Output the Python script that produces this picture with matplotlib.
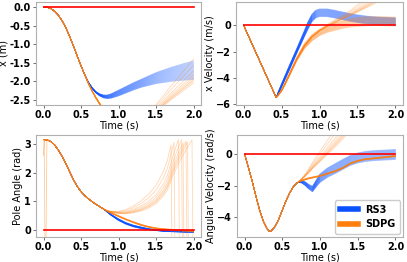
import numpy as np
import matplotlib
matplotlib.use("Agg")
import matplotlib.pyplot as plt
from matplotlib.lines import Line2D

# ---------------- data ----------------
# Panel 1: cart position x (m)
t_x_common = [0, .05, .1, .15, .2, .25, .3, .35, .4, .45, .5, .55]
x_common = [0, -0.01, -0.05, -0.12, -0.23, -0.38, -0.57, -0.8, -1.05, -1.32, -1.58, -1.82]
t_x_blue = [.6, .65, .7, .75, .8, .85, .9, 1.0, 1.1, 1.2, 1.3, 1.4, 1.5, 1.6, 1.7, 1.8, 1.9, 2.0]
x_blue = [-2.03, -2.18, -2.29, -2.36, -2.4, -2.41, -2.39, -2.31, -2.22, -2.13, -2.05, -1.98,
          -1.91, -1.86, -1.81, -1.77, -1.73, -1.7]
x_blue_spread = [0.01, 0.015, 0.02, 0.03, 0.04, 0.05, 0.06, 0.08, 0.09, 0.1, 0.11, 0.13,
                 0.15, 0.17, 0.19, 0.21, 0.23, 0.25]
t_x_orange = [.6, .65, .7, .75, .8, .9, 1.0, 1.1, 1.2, 1.3, 1.4, 1.5, 1.6, 1.7, 1.8, 1.9, 2.0]
x_orange_good = [-2.06, -2.26, -2.44, -2.6, -2.74, -2.95, -3.06, -3.1, -3.1, -3.08, -3.06,
                 -3.04, -3.02, -3.0, -2.97, -2.94, -2.9]
x_orange_bad = [-2.06, -2.26, -2.44, -2.6, -2.74, -2.95, -3.05, -3.08, -3.06, -2.98, -2.85,
                -2.62, -2.38, -2.12, -1.88, -1.64, -1.4]
x_orange_spread = [0.01, 0.01, 0.015, 0.02, 0.02, 0.03, 0.04, 0.05, 0.05, 0.06, 0.06,
                   0.07, 0.07, 0.08, 0.08, 0.09, 0.1]

# Panel 2: x velocity (m/s)
t_v_common = [0, 0.43]
v_common = [0, -5.5]
t_v_blue = [0.45, 0.5, 0.6, 0.7, 0.8, 0.85, 0.9, 0.95, 1.0, 1.1, 1.2, 1.3, 1.4, 1.5, 1.6,
            1.7, 1.8, 1.9, 2.0]
v_blue = [-5.24, -4.58, -3.27, -1.96, -0.65, 0.0, 0.55, 0.85, 0.95, 0.95, 0.85, 0.72, 0.6,
          0.5, 0.42, 0.36, 0.32, 0.3, 0.28]
v_blue_spread = [0.1, 0.15, 0.2, 0.2, 0.25, 0.3, 0.3, 0.3, 0.3, 0.3, 0.3, 0.3, 0.3, 0.3,
                 0.3, 0.3, 0.3, 0.3, 0.3]
t_v_orange = [0.45, 0.5, 0.55, 0.6, 0.7, 0.8, 0.9, 1.0, 1.1, 1.2, 1.3, 1.4, 1.5, 1.6, 1.7,
              1.8, 1.9, 2.0]
v_orange_good = [-5.35, -4.97, -4.4, -3.8, -2.58, -1.6, -0.95, -0.55, -0.3, -0.12, 0.05,
                 0.18, 0.26, 0.3, 0.32, 0.32, 0.3, 0.28]
v_orange_bad = [-5.35, -4.97, -4.4, -3.8, -2.58, -1.57, -0.85, -0.35, 0.05, 0.4, 0.75, 1.1,
                1.55, 2.0, 2.5, 3.0, 3.5, 4.0]
v_orange_spread = [0.05, 0.08, 0.1, 0.12, 0.15, 0.2, 0.25, 0.25, 0.25, 0.28, 0.3, 0.32,
                   0.35, 0.35, 0.35, 0.35, 0.35, 0.35]

# Panel 3: pole angle (rad)
t_a_common = [0, .05, .1, .15, .2, .25, .3, .35, .4, .45, .5, .55, .6, .65, .7, .75, .8]
a_common = [3.14, 3.13, 3.07, 2.95, 2.77, 2.55, 2.3, 2.02, 1.75, 1.52, 1.34, 1.2, 1.09,
            0.99, 0.9, 0.82, 0.74]
t_a_blue = [0.85, 0.9, 1.0, 1.1, 1.2, 1.3, 1.4, 1.5, 1.6, 1.7, 1.8, 1.9, 2.0]
a_blue = [0.64, 0.54, 0.37, 0.24, 0.15, 0.09, 0.04, 0.01, -0.02, -0.03, -0.04, -0.05, -0.05]
a_blue_spread = [0.01, 0.02, 0.03, 0.03, 0.03, 0.03, 0.02, 0.02, 0.02, 0.02, 0.02, 0.02, 0.02]
t_a_orange = [0.85, 0.9, 1.0, 1.1, 1.2, 1.3, 1.4, 1.5, 1.6, 1.65, 1.7, 1.72, 1.74, 1.76,
              1.78, 1.8, 1.82, 1.84, 1.86, 1.88, 1.9, 1.92, 1.94, 1.96, 1.98, 2.0]
a_orange_good = [0.67, 0.61, 0.49, 0.38, 0.28, 0.19, 0.12, 0.07, 0.04, 0.03, 0.02, 0.02,
                 0.01, 0.01, 0.0, 0.0, 0.0, 0.0, -0.01, -0.01, -0.01, -0.01, -0.02, -0.02,
                 -0.02, -0.02]
a_orange_bad = [0.68, 0.66, 0.66, 0.72, 0.85, 1.02, 1.25, 1.55, 2.05, 2.4, 2.95, 3.2, 3.42,
                3.62, 3.82, 4.0, 4.18, 4.36, 4.53, 4.7, 4.86, 5.02, 5.17, 5.32, 5.47, 5.6]
a_orange_spread = [0.02] * 26
t_a_spike = [0.0, 0.01, 0.025, 0.045, 0.05]
a_spike1 = [2.6, 3.14, 3.14, 3.13, 3.13]
a_spike2 = [3.14, 3.14, -3.1, 3.13, 3.13]

# Panel 4: angular velocity (rad/s)
t_w_common = [0, .05, .1, .15, .2, .25, .3, .33, .35, .4, .45, .5, .55, .6, .65, .7]
w_common = [0, -0.85, -1.7, -2.65, -3.55, -4.25, -4.72, -4.88, -4.87, -4.6, -4.15, -3.55,
            -2.95, -2.45, -2.05, -1.82]
t_w_after = [0.75, 0.8, 0.85, 0.9, 0.95, 1.0, 1.1, 1.2, 1.3, 1.4, 1.5, 1.6, 1.7, 1.8, 1.9, 2.0]
w_blue = [-1.75, -1.87, -2.07, -2.22, -1.87, -1.54, -1.19, -0.94, -0.68, -0.43, -0.27,
          -0.18, -0.13, -0.1, -0.08, -0.05]
w_blue_spread = [0.08, 0.12, 0.15, 0.18, 0.22, 0.28, 0.3, 0.32, 0.32, 0.32, 0.32, 0.32,
                 0.32, 0.32, 0.32, 0.32]
w_orange_good = [-1.7, -1.62, -1.55, -1.5, -1.45, -1.4, -1.25, -1.1, -0.9, -0.62, -0.45,
                 -0.35, -0.3, -0.25, -0.2, -0.15]
w_orange_bad = [-1.6, -1.3, -0.95, -0.55, -0.2, 0.15, 0.85, 1.55, 2.25, 2.95, 3.65, 4.3,
                4.9, 5.5, 6.0, 6.5]
w_orange_spread = [0.04] * 16

# failing SDPG runs: blend weight toward the diverging curve (from wrap times)
bad_weights = [1.0, 0.89, 0.785, 0.72, 0.67, 0.636, 0.61, 0.575]
n_blue = 30
n_orange_good = 20

series_names = ["RS3", "SDPG"]
ylabels = ["x (m)", "x Velocity (m/s)", "Pole Angle (rad)", "Angular Velocity (rad/s)"]
xlabel = "Time (s)"

BLUE = "#0a52ff"
ORANGE = "#ff7f0e"
RED = "#ff0000"

plt.rcParams["font.family"] = ["DejaVu Sans"]
plt.rcParams["font.size"] = 7

fig = plt.figure(figsize=(4.07, 2.62), dpi=100)
W, H = 407, 262


def add_ax(l, t, r, b):
    return fig.add_axes([l / W, 1 - b / H, (r - l) / W, (b - t) / H])


axes = [add_ax(36, 2, 201, 105), add_ax(236, 2, 403, 105),
        add_ax(36, 135, 201, 237), add_ax(237, 135, 403, 237)]

LW = 0.5
AL = 0.25


def draw_family(ax, t_c, v_c, t_a, mean, spread, n, color, alpha=AL, lw=LW):
    t_all = np.concatenate([t_c, t_a])
    for f in np.linspace(-1, 1, n):
        vals = np.concatenate([v_c, np.asarray(mean) + f * np.asarray(spread)])
        ax.plot(t_all, vals, color=color, lw=lw, alpha=alpha, zorder=2)


def draw_bad(ax, t_c, v_c, t_a, good, bad, color, wrap=False):
    g = np.asarray(good)
    b = np.asarray(bad)
    t_all = np.concatenate([t_c, t_a])
    for w in bad_weights:
        v = g + w * (b - g)
        if wrap:
            v = np.where(v > np.pi, v - 2 * np.pi, v)
        ax.plot(t_all, np.concatenate([v_c, v]), color=color, lw=0.6, alpha=0.3, zorder=2)


# Panel 1
ax = axes[0]
draw_family(ax, t_x_common, x_common, t_x_blue, x_blue, x_blue_spread, n_blue, BLUE)
draw_family(ax, t_x_common, x_common, t_x_orange, x_orange_good, x_orange_spread,
            n_orange_good, ORANGE)
draw_bad(ax, t_x_common, x_common, t_x_orange, x_orange_good, x_orange_bad, ORANGE)
ax.set_ylim(-2.63, 0.13)
ax.set_yticks([0.0, -0.5, -1.0, -1.5, -2.0, -2.5])
ax.yaxis.set_major_formatter(matplotlib.ticker.FormatStrFormatter("%.1f"))

# Panel 2
ax = axes[1]
draw_family(ax, t_v_common, v_common, t_v_blue, v_blue, v_blue_spread, n_blue, BLUE)
draw_family(ax, t_v_common, v_common, t_v_orange, v_orange_good, v_orange_spread,
            n_orange_good, ORANGE)
draw_bad(ax, t_v_common, v_common, t_v_orange, v_orange_good, v_orange_bad, ORANGE)
ax.set_ylim(-6.06, 1.77)
ax.set_yticks([0, -2, -4, -6])

# Panel 3
ax = axes[2]
draw_family(ax, t_a_common, a_common, t_a_blue, a_blue, a_blue_spread, n_blue, BLUE)
draw_family(ax, t_a_common, a_common, t_a_orange, a_orange_good, a_orange_spread,
            n_orange_good, ORANGE)
draw_bad(ax, t_a_common, a_common, t_a_orange, a_orange_good, a_orange_bad, ORANGE, wrap=True)
ax.plot(t_a_spike, a_spike1, color=ORANGE, lw=0.6, alpha=0.5, zorder=2)
ax.plot(t_a_spike, a_spike2, color=ORANGE, lw=0.6, alpha=0.4, zorder=2)
ax.set_ylim(-0.23, 3.3)
ax.set_yticks([0, 1, 2, 3])

# Panel 4
ax = axes[3]
draw_family(ax, t_w_common, w_common, t_w_after, w_blue, w_blue_spread, n_blue, BLUE)
draw_family(ax, t_w_common, w_common, t_w_after, w_orange_good, w_orange_spread,
            n_orange_good, ORANGE)
draw_bad(ax, t_w_common, w_common, t_w_after, w_orange_good, w_orange_bad, ORANGE)
ax.set_ylim(-5.23, 1.17)
ax.set_yticks([0, -2, -4])

for ax, yl in zip(axes, ylabels):
    ax.plot([0, 2], [0, 0], color=RED, lw=1.2, zorder=5)
    ax.set_xlim(-0.1, 2.1)
    ax.set_xticks([0.0, 0.5, 1.0, 1.5, 2.0])
    ax.xaxis.set_major_formatter(matplotlib.ticker.FormatStrFormatter("%.1f"))
    ax.set_xlabel(xlabel, fontsize=7, labelpad=0.5)
    ax.set_ylabel(yl, fontsize=7, labelpad=1)
    ax.tick_params(labelsize=7, length=2.5, width=0.6, pad=1, color="#555555")
    for lab in ax.get_xticklabels() + ax.get_yticklabels():
        lab.set_fontweight("bold")
    for s in ax.spines.values():
        s.set_color("#b0b0b0")
        s.set_linewidth(0.8)

handles = [Line2D([0], [0], color=BLUE, lw=4), Line2D([0], [0], color=ORANGE, lw=4)]
leg = axes[3].legend(handles, series_names, loc="lower right",
                     prop={"weight": "bold", "size": 7},
                     handlelength=1.9, borderpad=0.5, labelspacing=0.45, framealpha=1,
                     edgecolor="#cccccc", handletextpad=0.7, borderaxespad=0.3)

fig.savefig("out.png", dpi=100)
